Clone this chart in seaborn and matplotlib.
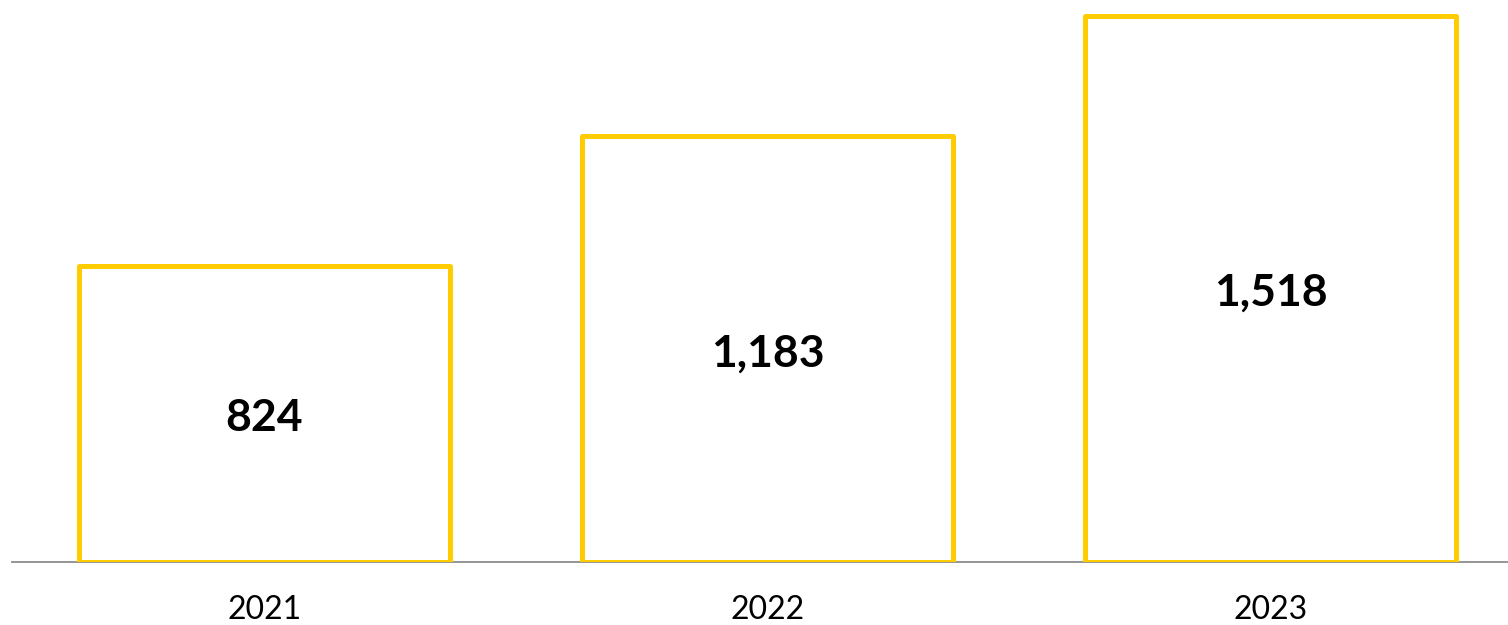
import matplotlib
matplotlib.use("Agg")
import matplotlib.pyplot as plt
import matplotlib.transforms as mtransforms
import seaborn as sns
import pandas as pd

years = ["2021", "2022", "2023"]
totals = [824, 1183, 1518]
value_labels = ["824", "1,183", "1,518"]

sns.set_theme(style="white")
plt.rcParams["font.family"] = ["Lato", "DejaVu Sans"]

df = pd.DataFrame({"year": years, "total": totals})

fig = plt.figure(figsize=(15.08, 6.25), dpi=100)
ax = fig.add_axes([12 / 1508, 63 / 625, 1 - 12 / 1508, 1 - 63 / 625])

sns.barplot(data=df, x="year", y="total", ax=ax, width=0.736,
            color="white", edgecolor="#FFCC00", linewidth=3.6,
            saturation=1, zorder=3)

for patch in ax.patches:
    patch.set_facecolor("white")
    patch.set_joinstyle("round")

# value labels sit at the middle of each bar, nudged slightly down
label_shift = mtransforms.offset_copy(ax.transData, fig=fig, x=0, y=-4, units="dots")
for patch, text in zip(ax.patches, value_labels):
    cx = patch.get_x() + patch.get_width() / 2
    cy = patch.get_height() / 2
    ax.text(cx, cy, text, ha="center", va="center", fontsize=32,
            fontweight="bold", color="black", zorder=4, transform=label_shift)

ax.set_xlim(-0.502, 2.472)
ax.set_ylim(0, 1562)
ax.set_xlabel("")
ax.set_ylabel("")
ax.set_yticks([])
for side in ["top", "left", "right"]:
    ax.spines[side].set_visible(False)
ax.spines["bottom"].set_color("#8c8c8c")
ax.spines["bottom"].set_linewidth(1.3)
ax.spines["bottom"].set_zorder(2)
ax.tick_params(axis="x", length=0, pad=24, labelsize=23, colors="black")

fig.savefig("out.png", dpi=100)
